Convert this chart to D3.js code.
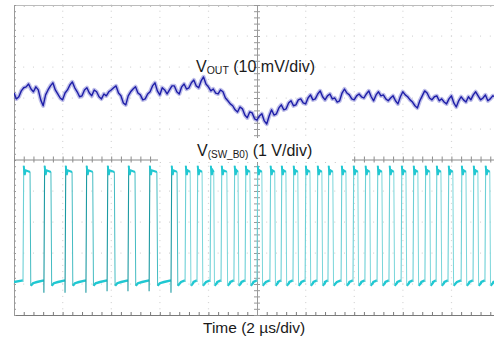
<!DOCTYPE html>
<html><head><meta charset="utf-8">
<script src="https://cdn.jsdelivr.net/npm/d3@7/dist/d3.min.js"></script>
<style>body{margin:0;background:#fff}svg{display:block}text{font-family:"Liberation Sans",Arial,sans-serif;fill:#1a1a1a}</style>
</head><body>
<svg id="chart" width="494" height="341"></svg>
<script>
// ---------------- DATA ----------------
const timeDomain = [-10, 10];          // µs (2 µs/div, 10 div)
const voutStart = -10;                 // µs
const voutStep = 0.1;                  // µs
// V_OUT deviation, mV (10 mV/div)
const voutValues = [
 0.6,-1.3,-0.6,1.3,2.3,2.6,3.5,1.9,1.0,2.6,
 1.6,-1.6,-3.5,0.0,1.6,2.9,3.9,1.6,0.3,-1.0,
 -1.6,0.6,1.6,3.2,4.2,2.3,1.0,-0.6,-0.3,1.6,
 2.3,0.6,-0.3,1.6,1.0,-0.6,-1.3,0.3,-0.3,1.0,
 1.6,2.3,2.9,0.6,-0.3,-2.6,-3.2,-0.3,1.0,1.9,
 2.6,0.6,0.0,-1.6,-1.3,0.3,1.0,2.9,3.9,1.3,
 0.0,2.3,1.6,0.3,1.6,2.9,2.9,1.0,0.3,2.6,
 3.5,1.9,2.3,3.9,4.8,2.9,2.3,4.5,5.8,3.5,
 2.6,1.3,1.9,0.6,0.3,1.6,1.0,-1.0,-1.9,-2.9,
 -3.5,-4.8,-5.5,-3.9,-4.5,-6.5,-7.4,-5.5,-5.8,-7.7,
 -8.1,-6.8,-6.1,-8.4,-9.4,-6.8,-4.8,-6.5,-6.1,-4.2,
 -3.2,-4.8,-4.5,-2.6,-1.9,-3.5,-3.2,-1.6,-1.3,-2.6,
 -2.9,-1.0,0.0,-1.6,-1.3,0.3,1.3,-0.6,-1.6,-0.3,
 0.3,-1.3,-1.0,-2.3,-1.9,0.6,1.9,0.6,0.0,-1.3,
 -1.6,-0.3,0.3,-0.6,-1.0,0.3,1.3,-0.6,-1.9,0.0,
 1.0,-0.3,0.0,-1.3,-1.9,-1.0,-0.3,-1.9,-2.9,-0.6,
 1.0,0.0,-0.6,-1.6,-2.3,-3.5,-4.2,-1.9,-0.3,1.3,
 0.6,-1.0,-1.6,-0.6,-0.3,-1.9,-1.3,-2.3,-2.9,-1.3,
 -0.3,-2.6,-3.9,-1.9,-0.6,-1.6,-2.3,-0.6,-1.6,0.0,
 1.0,-0.3,-1.6,-1.0,0.0,-1.9,-1.3,-0.3,-0.6,0.0,
 -1.0];
// Switch node: rising / falling edge times (µs) and undershoot at each rise (V)
const swRise = [-9.63,-8.77,-7.90,-7.04,-6.17,-5.31,-4.44,-3.54,-2.96,-2.47,-1.93,-1.48,-0.95,-0.49,0.00,0.53,0.99,1.48,1.98,2.47,2.92,3.46,3.95,4.44,4.94,5.43,5.93,6.42,6.91,7.37,7.86,8.40,8.89,9.38,9.88];
const swFall = [-9.34,-8.48,-7.61,-6.76,-5.87,-5.02,-4.12,-3.29,-2.75,-2.26,-1.78,-1.24,-0.78,-0.29,0.20,0.73,1.19,1.68,2.18,2.67,3.12,3.66,4.15,4.64,5.14,5.63,6.13,6.62,7.11,7.57,8.06,8.60,9.09,9.58,10.08];
const swUnder = [0,-0.35,-0.35,-0.35,-0.3,-0.3,-0.3,-0.35,0,0,0,0,0,0,0,0,0,0,0,0,0,0,0,0,0,0,0,0,0,0,0,0,0,0,0];
const swLevels = {low:0, lowStart:-0.12, lowEnd:0.05, high:3.55, peak:3.75, dip:3.45};
const voutDomain = [-71, 29];      // mV shown over 10 div
const swDomain = [-1.065, 8.935];  // V shown over 10 div
const divDomain = [-5, 5];
const labelVout = {main:"V", sub:"OUT", rest:" (10 mV/div)"};
const labelSw = {main:"V", sub:"(SW_B0)", rest:" (1 V/div)"};
const labelTime = "Time (2 µs/div)";

// ---------------- LAYOUT ----------------
const L = 14, R = 500, T = 5, B = 315;
const svg = d3.select("#chart");
const x = d3.scaleLinear().domain(timeDomain).range([L, R]);
const yV = d3.scaleLinear().domain(voutDomain).range([B, T]);
const yS = d3.scaleLinear().domain(swDomain).range([B, T]);
const yD = d3.scaleLinear().domain(divDomain).range([B, T]);
const xMinor = d3.range(-10, 10.001, 0.4);
const yMinor = d3.range(-5, 5.001, 0.2);

// grid dots
const grid = svg.append("g").attr("fill", "#d4d4d4");
[-4,-3,-2,-1,1,2,3,4].forEach(r => {
  grid.selectAll(null).data(xMinor).enter().append("rect")
    .attr("x", d => x(d) - 0.5).attr("y", yD(r) - 0.5).attr("width", 1).attr("height", 1.2);
});
[-8,-6,-4,-2,2,4,6,8].forEach(c => {
  grid.selectAll(null).data(yMinor).enter().append("rect")
    .attr("x", x(c) - 0.5).attr("y", d => yD(d) - 0.5).attr("width", 1.2).attr("height", 1);
});

// frame axes
function styleAxis(g, col) { g.selectAll("path,line").attr("stroke", col); g.selectAll("text").remove(); }
svg.append("g").attr("transform", `translate(0,${B})`)
  .call(d3.axisTop(x).tickValues(xMinor).tickSize(3).tickSizeOuter(0).tickFormat(""))
  .call(g => styleAxis(g, "#7a7a7a"));
svg.append("g").attr("transform", `translate(0,${T})`)
  .call(d3.axisBottom(x).tickValues(xMinor).tickSize(2).tickSizeOuter(0).tickFormat(""))
  .call(g => styleAxis(g, "#bcbcbc"));
svg.append("g").attr("transform", `translate(${L},0)`)
  .call(d3.axisRight(yD).tickValues(yMinor).tickSize(2).tickSizeOuter(0).tickFormat(""))
  .call(g => styleAxis(g, "#9a9a9a"));
// center axes
const cx = x(0), cy = yD(0) - 0.5;
svg.append("g").attr("transform", `translate(${cx},0)`)
  .call(d3.axisLeft(yD).tickValues(yMinor).tickSize(3).tickSizeOuter(0).tickFormat(""))
  .call(g => styleAxis(g, "#999"));
svg.append("g").attr("transform", `translate(${cx},0)`)
  .call(d3.axisRight(yD).tickValues(yMinor).tickSize(3).tickSizeOuter(0).tickFormat(""))
  .call(g => { styleAxis(g, "#999"); g.select(".domain").remove(); });
svg.append("g").attr("transform", `translate(0,${cy})`)
  .call(d3.axisTop(x).tickValues(xMinor).tickSize(3).tickSizeOuter(0).tickFormat(""))
  .call(g => styleAxis(g, "#8a8a8a"));
svg.append("g").attr("transform", `translate(0,${cy})`)
  .call(d3.axisBottom(x).tickValues(xMinor).tickSize(3).tickSizeOuter(0).tickFormat(""))
  .call(g => { styleAxis(g, "#8a8a8a"); g.select(".domain").remove(); });

// SW label background (hides part of center line)
svg.append("rect").attr("x", 158).attr("y", 138).attr("width", 194).attr("height", 24).attr("fill", "#fff");

// ---------------- SW trace ----------------
svg.append("clipPath").attr("id", "pc").append("rect")
  .attr("x", L).attr("y", T).attr("width", R - L).attr("height", B - T);
const sw = svg.append("g").attr("clip-path", "url(#pc)");
const lineS = d3.line().x(d => x(d[0])).y(d => yS(d[1]));
const lows = [];
lows.push([[timeDomain[0], swLevels.low], [swRise[0], swLevels.lowEnd]]);
swRise.forEach((r, i) => {
  const f = swFall[i];
  const next = i + 1 < swRise.length ? swRise[i + 1] : timeDomain[1];
  lows.push([[f + 0.03, swLevels.lowStart], [f + 0.12, -0.04], [(f + next) / 2, swLevels.low], [next, swLevels.lowEnd]]);
});
sw.selectAll(".low").data(lows).enter().append("path")
  .attr("d", lineS).attr("fill", "none").attr("stroke", "#1fc8d2").attr("stroke-width", 2.4);
sw.selectAll(".fall").data(swFall).enter().append("path")
  .attr("d", f => lineS([[f, swLevels.high], [f + 0.03, swLevels.lowStart]]))
  .attr("fill", "none").attr("stroke", (f, i) => i < 8 ? "#45bcc2" : "#7ad6da").attr("stroke-width", 1);
sw.selectAll(".rise").data(swRise).enter().append("path")
  .attr("d", (r, i) => lineS([[r, swLevels.lowEnd], [r, swUnder[i] < 0 ? swUnder[i] : swLevels.low], [r + 0.03, swLevels.peak]]))
  .attr("fill", "none").attr("stroke", (r, i) => swUnder[i] < 0 ? "#1c9aa2" : "#6cd0d6").attr("stroke-width", 1.1);
sw.selectAll(".top").data(swRise).enter().append("path")
  .attr("d", (r, i) => lineS([[r + 0.03, swLevels.peak], [r + 0.07, swLevels.dip], [r + 0.11, swLevels.high + 0.05], [swFall[i], swLevels.high]]))
  .attr("fill", "none").attr("stroke", "#20c8d2").attr("stroke-width", 2);

// ---------------- VOUT trace ----------------
const voutPts = voutValues.map((v, i) => [voutStart + i * voutStep, v]);
const lineV = d3.line().x(d => x(d[0])).y(d => yV(d[1]));
const vg = svg.append("g").attr("clip-path", "url(#pc)");
vg.append("path").attr("d", lineV(voutPts)).attr("fill", "none").attr("stroke", "#4444c0").attr("stroke-width", 4.2).attr("stroke-opacity", 0.35).attr("stroke-linejoin", "round");
vg.append("path").attr("d", lineV(voutPts)).attr("fill", "none").attr("stroke", "#1e1ea8").attr("stroke-width", 1.4).attr("stroke-linejoin", "round");

// ---------------- labels ----------------
function label(obj, x0, y0, subSize, subDy) {
  const t = svg.append("text").attr("x", x0).attr("y", y0).attr("font-size", 16);
  t.append("tspan").text(obj.main);
  t.append("tspan").attr("font-size", subSize).attr("dy", subDy).text(obj.sub);
  t.append("tspan").attr("dy", -subDy).text(obj.rest);
}
label(labelVout, 196, 72, 10.5, 1.5);
label(labelSw, 197, 156, 10, 2);
svg.append("text").attr("x", 203).attr("y", 333).attr("font-size", 15.5).text(labelTime);
</script>
</body></html>
